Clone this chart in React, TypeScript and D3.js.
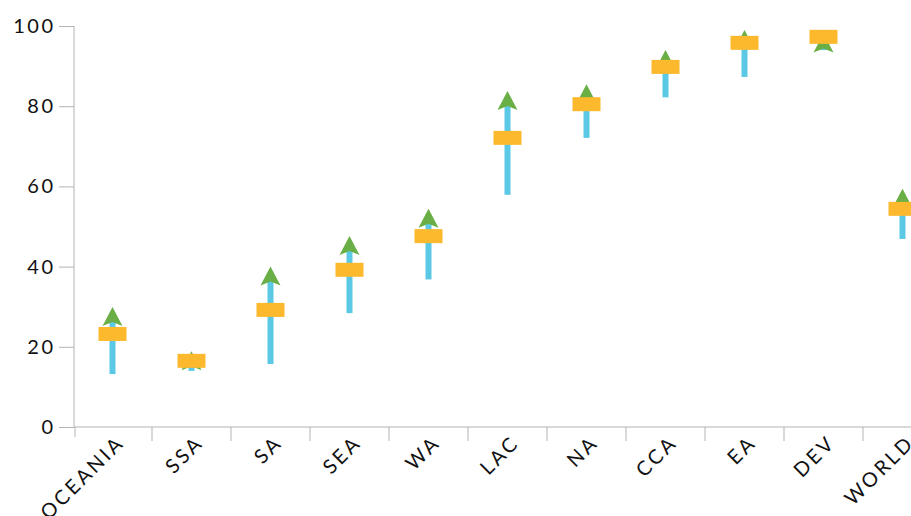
import React, { useEffect, useRef } from "react";
import * as d3 from "d3";

const categories = ["OCEANIA", "SSA", "SA", "SEA", "WA", "LAC", "NA", "CCA", "EA", "DEV", "WORLD"];
const lowValues = [13.2, 14.0, 15.7, 28.4, 36.8, 57.9, 72.1, 82.2, 87.3, 94.0, 46.9];
const currentValues = [23.2, 16.5, 29.2, 39.2, 47.6, 72.1, 80.5, 89.8, 95.8, 97.3, 54.4];
const targetValues = [29.9, 18.9, 40.0, 47.6, 54.4, 83.8, 85.5, 94.0, 99.0, 98.1, 59.4];
const yTicks = [0, 20, 40, 60, 80, 100];

const W = 911;
const H = 516;
const FONT = "Lato, 'Open Sans', sans-serif";

export default function App() {
  const ref = useRef<SVGSVGElement | null>(null);

  useEffect(() => {
    const svg = d3.select(ref.current);
    svg.selectAll("*").remove();

    const x = d3.scaleBand<string>().domain(categories).range([73, 73 + 11 * 79]).padding(0);
    const y = d3.scaleLinear().domain([0, 100]).range([427, 26]);
    const axisColor = "#b3b3b3";

    // y axis
    const yAxis = svg.append("g").attr("transform", "translate(74,0)")
      .call(d3.axisLeft(y).tickValues(yTicks).tickSize(15).tickPadding(6));
    yAxis.select(".domain").attr("stroke", axisColor).attr("d", `M0,${y(100)}V${y(0)}`);
    yAxis.selectAll(".tick line").attr("stroke", axisColor);
    yAxis.selectAll(".tick text")
      .attr("fill", "#111")
      .attr("font-size", 20)
      .attr("font-family", FONT)
      .attr("letter-spacing", 2.5)
      .attr("dx", 2.5);

    // x axis
    const gx = svg.append("g");
    gx.append("line").attr("x1", 74).attr("x2", W).attr("y1", y(0)).attr("y2", y(0)).attr("stroke", axisColor);
    gx.selectAll("line.t").data(categories).enter().append("line")
      .attr("class", "t")
      .attr("x1", (d) => (d === categories[0] ? 75 : (x(d) as number)))
      .attr("x2", (d) => (d === categories[0] ? 75 : (x(d) as number)))
      .attr("y1", y(0)).attr("y2", (d) => (d === categories[0] ? y(0) + 10 : y(0) + 14))
      .attr("stroke", axisColor);
    gx.selectAll("text").data(categories).enter().append("text")
      .attr("transform", (d) => `translate(${(x(d) as number) + x.bandwidth() / 2 + 11},${y(0) + 19}) rotate(-45)`)
      .attr("text-anchor", "end")
      .attr("dx", 2.8)
      .attr("font-size", 20)
      .attr("letter-spacing", 2.8)
      .attr("font-family", FONT)
      .attr("fill", "#111")
      .text((d) => d);

    const cx = (i: number) => (x(categories[i]) as number) + x.bandwidth() / 2;
    const idx = categories.map((_, i) => i);

    // blue bars
    svg.append("g").selectAll("rect").data(idx).enter().append("rect")
      .attr("x", (i) => cx(i) - 3)
      .attr("width", 6)
      .attr("y", (i) => y(targetValues[i]) + 6)
      .attr("height", (i) => Math.max(0, y(lowValues[i]) - y(targetValues[i]) - 6))
      .attr("fill", "#5bc9e6");

    // green arrowheads
    svg.append("g").selectAll("path").data(idx).enter().append("path")
      .attr("transform", (i) => `translate(${cx(i)},${y(targetValues[i])})`)
      .attr("d", "M0,0L10,19L0,15L-10,19Z")
      .attr("fill", "#6aaf45");

    // orange markers
    svg.append("g").selectAll("rect").data(idx).enter().append("rect")
      .attr("x", (i) => cx(i) - 14)
      .attr("width", 28)
      .attr("y", (i) => y(currentValues[i]) - 7)
      .attr("height", 14)
      .attr("fill", "#fdb92e");
  }, []);

  return (
    <svg
      ref={ref}
      width={W}
      height={H}
      style={{ position: "absolute", left: 0, top: 0, display: "block", background: "#fff" }}
    />
  );
}
